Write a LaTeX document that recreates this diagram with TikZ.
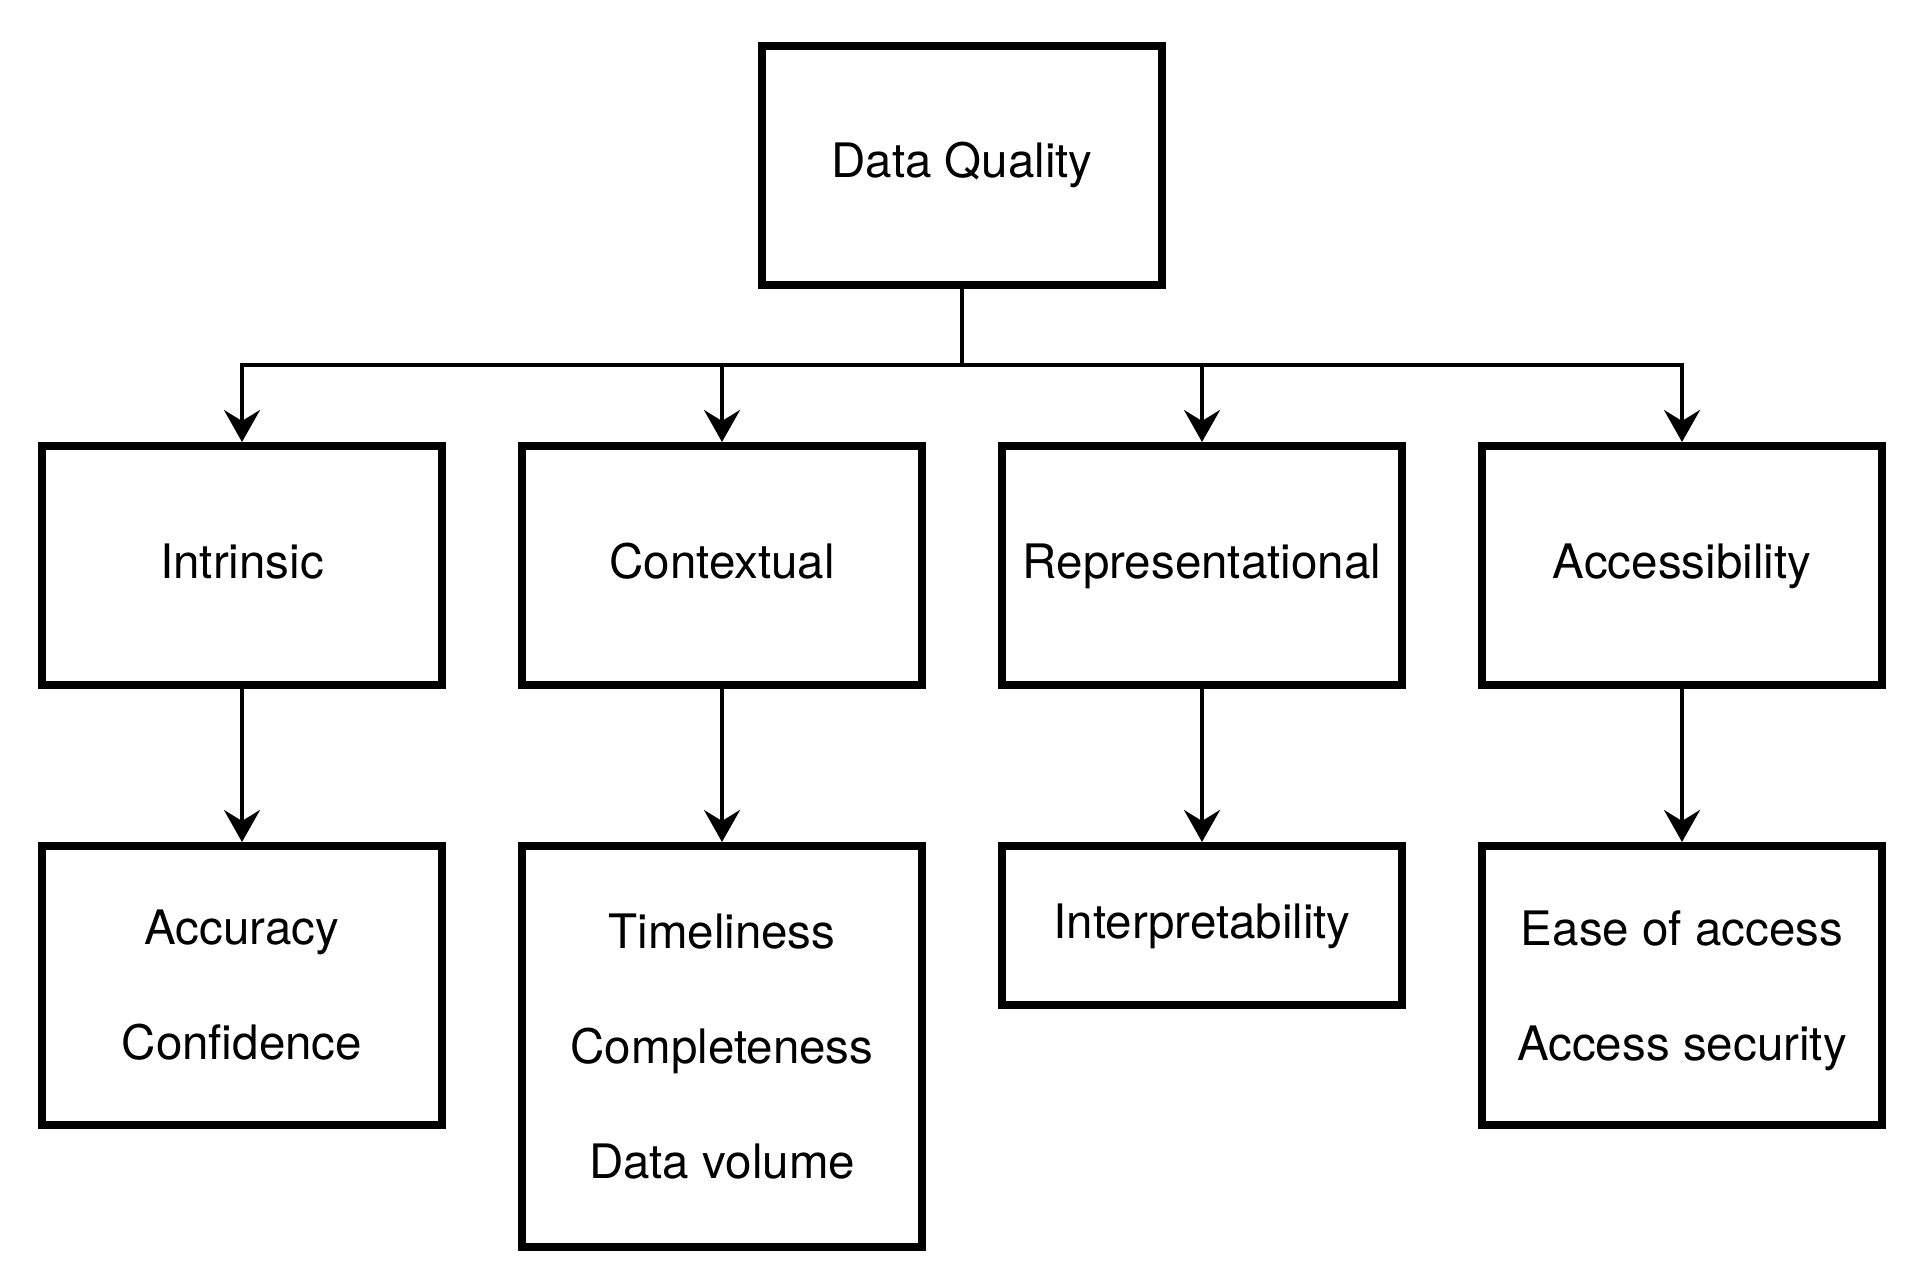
\documentclass[tikz,border=0pt]{standalone}
\usepackage{fontspec}
\setmainfont{TeX Gyre Heros}
\usepackage{tikz}
\usetikzlibrary{arrows.meta}
\usetikzlibrary{positioning, calc}

\begin{document}
\begin{tikzpicture}[->,>={Stealth[length=16pt,width=18pt,inset=5.5pt]},
            line width=2pt,node distance=76.5pt and 36pt,
            box/.style={draw,rectangle,line width=4pt,minimum width=200pt,
                minimum height=119.5pt,align=center,
                font=\fontsize{23.75pt}{57.5pt}\selectfont},
            single/.style={box,text height=17.5pt,text depth=5pt}]
            \useasboundingbox (0,0) rectangle (966pt,-644pt);

            \node[single] (dq) at (481pt,-82.75pt) {Data Quality};

            % Dimensions
            \node[single] (ctx) [below left=76.5pt and 18pt of dq.south] {Contextual};
            \node[single] (intr) [left=of ctx]  {Intrinsic};
            \node[single] (rep) [right=of ctx]  {Representational};
            \node[single] (acc) [right=of rep]  {Accessibility};

            % Attributes
            \node[box,minimum height=139.5pt] (intrA) [below=of intr] {Accuracy\\Confidence};
            \node[box,minimum height=200.5pt] (ctxA) [below=of ctx] {Timeliness\\Completeness\\Data volume};
            \node[single,minimum height=79.5pt] (repA) [below=of rep] {Interpretability};
            \node[box,minimum height=139.5pt,text depth=0pt] (accA) [below=of acc] {Ease of access\\Access security};

            % From Data Quality
            \coordinate (bus) at ($(dq.south)!.5!(ctx.north -| dq.south)$);
            \draw (dq.south) -- (bus) -| (intr.north);
            \draw (dq.south) -- (bus) -| (ctx.north);
            \draw (dq.south) -- (bus) -| (rep.north);
            \draw (dq.south) -- (bus) -| (acc.north);

            % Down to the attributes
            \draw (intr) -- (intrA);
            \draw (ctx) -- (ctxA);
            \draw (rep) -- (repA);
            \draw (acc) -- (accA);

        \end{tikzpicture}
\end{document}
